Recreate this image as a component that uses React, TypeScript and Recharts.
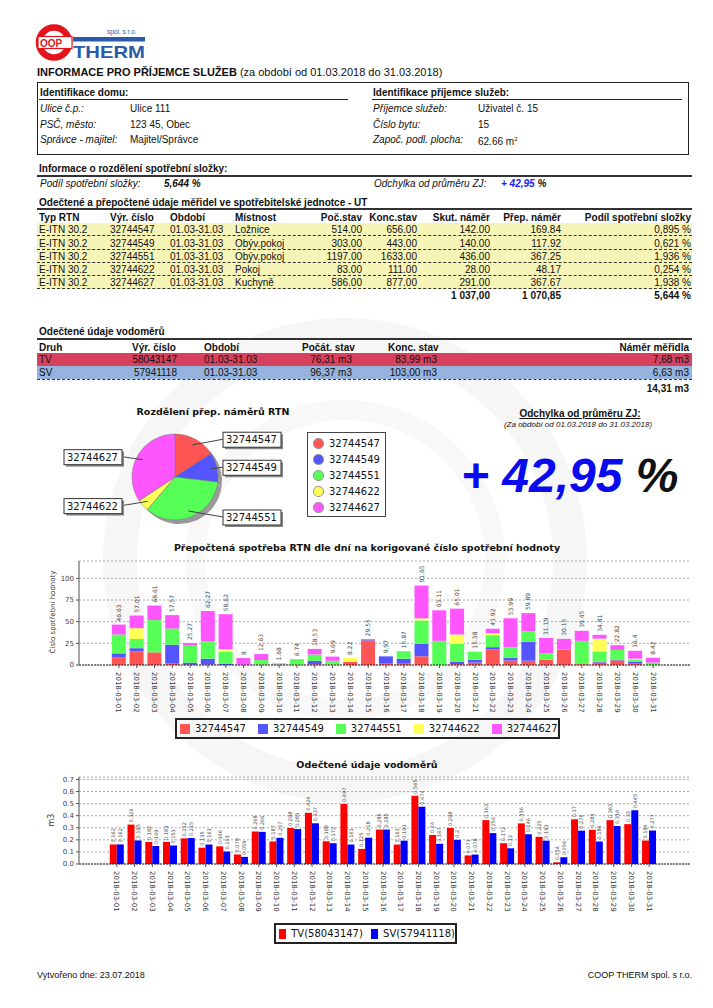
import React from "react";
import {
  ComposedChart,
  BarChart,
  Bar,
  Line,
  XAxis,
  YAxis,
  CartesianGrid,
  ReferenceLine,
  LabelList,
  PieChart,
  Pie,
  Cell,
} from "recharts";

const SANS = "'Liberation Sans', Arial, sans-serif";
const CHART_FONT = "'DejaVu Sans', sans-serif";

// --- RTN meters (table + pie) ---
const RTN_TYPE = "E-ITN 30.2";
const RTN_SERIALS = ["32744547", "32744549", "32744551", "32744622", "32744627"];
const RTN_ROOMS = ["Ložnice", "Obýv.pokoj", "Obýv.pokoj", "Pokoj", "Kuchyně"];
const RTN_START = ["514.00", "303.00", "1197.00", "83.00", "586.00"];
const RTN_END = ["656.00", "443.00", "1633.00", "111.00", "877.00"];
const RTN_ACTUAL = ["142.00", "140.00", "436.00", "28.00", "291.00"];
const RTN_CONVERTED = [169.84, 117.92, 367.25, 48.17, 367.67];
const RTN_SHARE = ["0,895 %", "0,621 %", "1,936 %", "0,254 %", "1,938 %"];
const RTN_COLORS = ["#ff5555", "#5555ff", "#55ff55", "#ffff55", "#ff55ff"];

// --- water meters table ---
const WM_KIND = ["TV", "SV"];
const WM_SERIAL = ["58043147", "57941118"];
const WM_START = ["76,31 m3", "96,37 m3"];
const WM_END = ["83,99 m3", "103,00 m3"];
const WM_USAGE = ["7,68 m3", "6,63 m3"];
const WM_ROW_BG = ["#d8415d", "#96b3dd"];

// --- daily data ---
const DAYS = Array.from({ length: 31 }, (_, i) => `2018-03-${String(i + 1).padStart(2, "0")}`);
const M547 = [8.5, 15.8, 14.6, 1.5, 0.3, 0.5, 0, 0.3, 0.5, 0, 0.3, 0.8, 0.5, 3.6, 28.3, 2.17, 1.5, 10.1, 0, 1.0, 2.8, 18.2, 5.3, 4.9, 6.1, 17.4, 1.0, 2.8, 5.3, 1.5, 0];
const M549 = [4.9, 3.6, 0, 22.0, 2.5, 6.8, 1.2, 0, 0, 0, 0, 4.1, 0, 0, 1.25, 7.8, 5.8, 14.2, 0, 2.6, 3.3, 2.4, 3.2, 21.8, 0, 0, 0, 0.8, 0.8, 2.5, 0];
const M551 = [21.8, 10.6, 37.2, 18.6, 19.5, 19.8, 14.2, 0, 5.2, 0.8, 6.44, 7.2, 4.4, 0, 0, 0, 8.57, 27.1, 27.9, 20.7, 9.28, 13.8, 12.1, 12.2, 7.3, 0.8, 26.9, 12.2, 11.3, 2.5, 2.8];
const M622 = [0, 12.5, 0, 0, 0, 0, 2.8, 0, 0, 0, 0, 0, 0, 4.62, 0, 0, 0, 2.4, 0, 10.9, 0, 2.4, 0, 0, 0, 0, 0, 14.6, 0, 0.8, 0];
const M627 = [11.43, 14.51, 16.81, 15.47, 2.97, 35.17, 40.42, 7.7, 6.93, 0.88, 0, 6.43, 4.79, 0, 0, 0, 0, 37.85, 35.21, 29.81, 0, 5.12, 33.39, 20.99, 17.79, 11.95, 11.55, 4.41, 5.42, 9.1, 5.62];
const TOTALS = [46.63, 57.01, 68.61, 57.57, 25.27, 62.27, 58.62, 8, 12.63, 1.68, 6.74, 18.53, 9.69, 8.22, 29.55, 9.97, 15.87, 91.65, 63.11, 65.01, 15.38, 41.92, 53.99, 59.89, 31.19, 30.15, 39.45, 34.81, 22.82, 16.4, 8.42];
const STACK_TICKS = [0, 25, 50, 75, 100];

const TV = [0.162, 0.326, 0.182, 0.183, 0.212, 0.135, 0.146, 0.079, 0.268, 0.187, 0.298, 0.424, 0.188, 0.497, 0.125, 0.285, 0.161, 0.565, 0.24, 0.298, 0.071, 0.363, 0.172, 0.336, 0.225, 0.014, 0.37, 0.283, 0.363, 0.33, 0.194];
const SV = [0.162, 0.195, 0.149, 0.153, 0.215, 0.161, 0.103, 0.059, 0.266, 0.217, 0.289, 0.337, 0.172, 0.161, 0.218, 0.285, 0.193, 0.474, 0.167, 0.2, 0.078, 0.256, 0.13, 0.246, 0.193, 0.056, 0.276, 0.186, 0.314, 0.445, 0.277];
const WATER_TICKS = [0, 0.1, 0.2, 0.3, 0.4, 0.5, 0.6, 0.7];

const stackKeys = ["m547", "m549", "m551", "m622", "m627"];
const stackData = DAYS.map((day, i) => ({
  day,
  m547: M547[i],
  m549: M549[i],
  m551: M551[i],
  m622: M622[i],
  m627: M627[i],
  total: TOTALS[i],
}));
const waterData = DAYS.map((day, i) => ({ day, tv: TV[i], sv: SV[i] }));
const pieData = RTN_SERIALS.map((name, i) => ({ name, value: RTN_CONVERTED[i] }));

// text placed by its vertical centre
function T({ x, y, right, size = 10, style, children }: any) {
  const lh = Math.round(size * 1.3);
  const s: any = {
    position: "absolute",
    top: y - lh / 2,
    lineHeight: lh + "px",
    fontSize: size,
    whiteSpace: "nowrap",
    ...style,
  };
  if (right) s.right = 713 - x;
  else s.left = x;
  return <div style={s}>{children}</div>;
}

function HLine({ x1, x2, y, w = 1, dashed, color = "#222" }: any) {
  return (
    <div
      style={{
        position: "absolute",
        left: x1,
        top: y,
        width: x2 - x1,
        borderTop: `${w}px ${dashed ? "dashed" : "solid"} ${color}`,
      }}
    />
  );
}

const DayTick = ({ x, y, payload }: any) => (
  <text
    x={x}
    y={y}
    dx={2}
    dy={2.5}
    transform={`rotate(90 ${x} ${y})`}
    fontSize={7}
    fill="#333"
    fontFamily={CHART_FONT}
  >
    {payload.value}
  </text>
);

const TotalLabel = ({ x, y, value }: any) => {
  const ty = y - 3;
  return (
    <text x={x} y={ty} dy={2} transform={`rotate(-90 ${x} ${ty})`} fontSize={6} fill="#444" fontFamily={CHART_FONT}>
      {value}
    </text>
  );
};

const WaterLabel = ({ x, y, width, value }: any) => {
  const cx = x + width / 2;
  const ty = y - 2;
  return (
    <text x={cx} y={ty} dy={1.8} transform={`rotate(-90 ${cx} ${ty})`} fontSize={5} fill="#444" fontFamily={CHART_FONT}>
      {value}
    </text>
  );
};

const RADIAN = Math.PI / 180;
const PieBoxLabel = ({ cx, cy, midAngle, outerRadius, index }: any) => {
  const cos = Math.cos(-midAngle * RADIAN);
  const sin = Math.sin(-midAngle * RADIAN);
  const px = cx + outerRadius * 0.85 * cos;
  const py = cy + outerRadius * 0.85 * sin;
  const by = cy + outerRadius * sin;
  const right = cos >= 0;
  const bw = 58;
  const bx = right ? cx + outerRadius + 5 : cx - outerRadius - 10 - bw;
  const lx = right ? bx : bx + bw;
  return (
    <g>
      <polyline points={`${px},${py} ${lx},${by}`} stroke="#444" fill="none" strokeWidth={1} />
      <rect x={bx + 2} y={by - 7 + 2} width={bw} height={15} fill="#888" />
      <rect x={bx} y={by - 7} width={bw} height={15} fill="#fff" stroke="#333" strokeWidth={1} />
      <text x={bx + 3} y={by + 4} fontSize={10} fill="#111" fontFamily={CHART_FONT}>
        {RTN_SERIALS[index]}
      </text>
    </g>
  );
};

function Logo() {
  return (
    <svg width={114} height={40} style={{ position: "absolute", left: 35, top: 22 }}>
      <circle cx={19} cy={20.5} r={15} fill="#fff" stroke="#e3141b" strokeWidth={6.5} />
      <rect x={3} y={14.5} width={34} height={12} fill="#fff" stroke="#e3141b" strokeWidth={1.2} />
      <text x={5} y={24.5} fontSize={10} fontWeight="bold" fill="#e3141b" fontFamily={SANS}>
        OOP
      </text>
      <text x={72} y={12} fontSize={6.5} fill="#2a5aa8" fontFamily={SANS}>
        spol. s r.o.
      </text>
      <rect x={38} y={15} width={72} height={4.5} fill="#2a5aa8" />
      <text x={38} y={35.5} fontSize={17} fontWeight="bold" fill="#2a5aa8" fontFamily={SANS} textLength={72} lengthAdjust="spacingAndGlyphs">
        THERM
      </text>
    </svg>
  );
}

const italic = { fontStyle: "italic" as const };
const bold = { fontWeight: "bold" as const };

export default function App() {
  const rtnRowY = [229, 243, 256, 269, 282];
  const wmRowY = [359, 372];
  return (
    <div style={{ position: "relative", width: 713, height: 1008, background: "#fff", fontFamily: SANS, color: "#111", overflow: "hidden" }}>
      <style>{"body{margin:0}"}</style>
      {/* faint watermark */}
      <svg width={713} height={1008} style={{ position: "absolute", left: 0, top: 0 }}>
        <circle cx={345} cy={560} r={225} fill="none" stroke="#f6f6f6" strokeWidth={34} />
        <circle cx={345} cy={560} r={150} fill="none" stroke="#f8f8f8" strokeWidth={20} />
      </svg>

      <Logo />
      <T x={37} y={72} size={11}>
        <b>INFORMACE PRO PŘÍJEMCE SLUŽEB</b> (za období od 01.03.2018 do 31.03.2018)
      </T>

      {/* house / recipient box */}
      <div style={{ position: "absolute", left: 37, top: 82, width: 652, height: 73, border: "1px solid #222", boxSizing: "border-box" }} />
      <T x={40} y={92} size={10} style={bold}>Identifikace domu:</T>
      <HLine x1={39} x2={348} y={99} w={1.5} />
      <T x={373} y={92} size={10} style={bold}>Identifikace příjemce služeb:</T>
      <HLine x1={372} x2={682} y={99} w={1.5} />
      <T x={40} y={108} size={10} style={italic}>Ulice č.p.:</T>
      <T x={130} y={108} size={10}>Ulice 111</T>
      <T x={40} y={124} size={10} style={italic}>PSČ, město:</T>
      <T x={130} y={124} size={10}>123 45, Obec</T>
      <T x={40} y={139} size={10} style={italic}>Správce - majitel:</T>
      <T x={130} y={139} size={10}>Majitel/Správce</T>
      <T x={373} y={108} size={10} style={italic}>Příjemce služeb:</T>
      <T x={478} y={108} size={10}>Uživatel č. 15</T>
      <T x={373} y={124} size={10} style={italic}>Číslo bytu:</T>
      <T x={478} y={124} size={10}>15</T>
      <T x={373} y={139} size={10} style={italic}>Započ. podl. plocha:</T>
      <T x={478} y={139} size={10}>
        62.66 m<sup style={{ fontSize: 6 }}>2</sup>
      </T>

      <T x={39} y={168} size={10} style={bold}>Informace o rozdělení spotřební složky:</T>
      <HLine x1={37} x2={692} y={175} w={2} color="#333" />
      <T x={40} y={183} size={10} style={italic}>Podíl spotřební složky:</T>
      <T x={164} y={183} size={10} style={{ ...italic, ...bold }}>5,644 %</T>
      <T x={374} y={183} size={10} style={italic}>Odchylka od průměru ZJ:</T>
      <T x={501} y={183} size={10} style={{ ...italic, ...bold }}>
        <span style={{ color: "#1a1aff" }}>+ 42,95</span> %
      </T>

      <T x={39} y={202} size={10} style={bold}>Odečtené a přepočtené údaje měřidel ve spotřebitelské jednotce - UT</T>
      <HLine x1={37} x2={692} y={208} w={2} color="#333" />
      <T x={39} y={217} size={10} style={bold}>Typ RTN</T>
      <T x={110} y={217} size={10} style={bold}>Výr. číslo</T>
      <T x={170} y={217} size={10} style={bold}>Období</T>
      <T x={235} y={217} size={10} style={bold}>Místnost</T>
      <T x={362} y={217} right size={10} style={bold}>Poč.stav</T>
      <T x={417} y={217} right size={10} style={bold}>Konc.stav</T>
      <T x={490} y={217} right size={10} style={bold}>Skut. náměr</T>
      <T x={561} y={217} right size={10} style={bold}>Přep. náměr</T>
      <T x={691} y={217} right size={10} style={bold}>Podíl spotřební složky</T>
      <div style={{ position: "absolute", left: 37, top: 223, width: 655, height: 66, background: "#f7f4b7" }} />
      {RTN_SERIALS.map((s, i) => (
        <React.Fragment key={s}>
          <T x={39} y={rtnRowY[i]}>{RTN_TYPE}</T>
          <T x={110} y={rtnRowY[i]}>{s}</T>
          <T x={170} y={rtnRowY[i]}>01.03-31.03</T>
          <T x={235} y={rtnRowY[i]}>{RTN_ROOMS[i]}</T>
          <T x={362} y={rtnRowY[i]} right>{RTN_START[i]}</T>
          <T x={417} y={rtnRowY[i]} right>{RTN_END[i]}</T>
          <T x={490} y={rtnRowY[i]} right>{RTN_ACTUAL[i]}</T>
          <T x={561} y={rtnRowY[i]} right>{RTN_CONVERTED[i].toFixed(2)}</T>
          <T x={691} y={rtnRowY[i]} right>{RTN_SHARE[i]}</T>
          <HLine x1={37} x2={692} y={rtnRowY[i] + 6} dashed color="#333" />
        </React.Fragment>
      ))}
      <T x={490} y={295} right style={bold}>1 037,00</T>
      <T x={561} y={295} right style={bold}>1 070,85</T>
      <T x={691} y={295} right style={bold}>5,644 %</T>

      <T x={39} y={331} size={10} style={bold}>Odečtené údaje vodoměrů</T>
      <HLine x1={37} x2={692} y={338} w={2} color="#333" />
      <T x={39} y={347} style={bold}>Druh</T>
      <T x={132} y={347} style={bold}>Výr. číslo</T>
      <T x={204} y={347} style={bold}>Období</T>
      <T x={302} y={347} style={bold}>Počát. stav</T>
      <T x={388} y={347} style={bold}>Konc. stav</T>
      <T x={689} y={347} right style={bold}>Náměr měřidla</T>
      {WM_KIND.map((k, i) => (
        <React.Fragment key={k}>
          <div style={{ position: "absolute", left: 37, top: wmRowY[i] - 6.5, width: 655, height: 13, background: WM_ROW_BG[i] }} />
          <T x={39} y={wmRowY[i]}>{k}</T>
          <T x={177} y={wmRowY[i]} right>{WM_SERIAL[i]}</T>
          <T x={204} y={wmRowY[i]}>01.03-31.03</T>
          <T x={352} y={wmRowY[i]} right>{WM_START[i]}</T>
          <T x={437} y={wmRowY[i]} right>{WM_END[i]}</T>
          <T x={689} y={wmRowY[i]} right>{WM_USAGE[i]}</T>
          <HLine x1={37} x2={692} y={wmRowY[i] + 6.5} dashed color="#333" />
        </React.Fragment>
      ))}
      <T x={689} y={388} right style={bold}>14,31 m3</T>

      {/* pie */}
      <T x={213} y={412} size={9.5} style={{ ...bold, fontFamily: CHART_FONT, transform: "translateX(-50%)" }}>
        Rozdělení přep. náměrů RTN
      </T>
      <PieChart width={260} height={130} style={{ position: "absolute", left: 40, top: 405 }}>
        <Pie
          data={pieData}
          dataKey="value"
          cx={134}
          cy={71}
          outerRadius={43}
          startAngle={90}
          endAngle={-270}
          fill="#999"
          stroke="none"
          isAnimationActive={false}
        />
        <Pie
          data={pieData}
          dataKey="value"
          cx={130}
          cy={67}
          outerRadius={43}
          startAngle={90}
          endAngle={-270}
          stroke="#777"
          strokeWidth={0.5}
          label={PieBoxLabel}
          labelLine={false}
          isAnimationActive={false}
        >
          {pieData.map((d, i) => (
            <Cell key={d.name} fill={RTN_COLORS[i]} />
          ))}
        </Pie>
      </PieChart>
      <div style={{ position: "absolute", left: 307, top: 432, width: 79, height: 85, border: "1px solid #444", boxSizing: "border-box", background: "#fff" }}>
        {RTN_SERIALS.map((s, i) => (
          <div key={s} style={{ position: "absolute", left: 5, top: 3 + i * 16, height: 14, display: "flex", alignItems: "center", fontFamily: CHART_FONT, fontSize: 10 }}>
            <span style={{ width: 9, height: 9, borderRadius: 5, background: RTN_COLORS[i], border: "0.5px solid #999", marginRight: 5 }} />
            {s}
          </div>
        ))}
      </div>

      <T x={580} y={413} size={10} style={{ ...bold, textDecoration: "underline", transform: "translateX(-50%)" }}>
        Odchylka od průměru ZJ:
      </T>
      <T x={578} y={425} size={8} style={{ ...italic, transform: "translateX(-50%)" }}>
        (Za období od 01.03.2018 do 31.03.2018)
      </T>
      <div style={{ position: "absolute", left: 461, top: 452, fontSize: 48, lineHeight: "47px", fontWeight: "bold", fontStyle: "italic", whiteSpace: "nowrap" }}>
        <span style={{ color: "#0a0aee" }}>+ 42,95</span> %
      </div>

      {/* stacked daily chart */}
      <T x={367} y={548} size={9.5} style={{ ...bold, fontFamily: CHART_FONT, transform: "translateX(-50%)" }}>
        Přepočtená spotřeba RTN dle dní na korigované číslo spotřební hodnoty
      </T>
      <div style={{ position: "absolute", left: 53, top: 612, transform: "translate(-50%,-50%) rotate(-90deg)", fontFamily: CHART_FONT, fontSize: 7, color: "#333", whiteSpace: "nowrap" }}>
        Číslo spotřební hodnoty
      </div>
      <ComposedChart
        width={700}
        height={169}
        data={stackData}
        margin={{ top: 10, right: 10, bottom: 0, left: 49 }}
        barCategoryGap="10%"
        style={{ position: "absolute", left: 0, top: 551 }}
      >
        <CartesianGrid vertical={false} stroke="#aaa" strokeDasharray="2 2" />
        <XAxis dataKey="day" interval={0} height={55} padding={{ left: 31, right: 28 }} axisLine={false} tickSize={3} tickLine={{ stroke: "#555" }} tick={<DayTick />} />
        <YAxis domain={[0, 120]} ticks={STACK_TICKS} interval={0} width={30} axisLine={{ stroke: "#888", strokeWidth: 1.5 }} tickSize={3} tickLine={{ stroke: "#555" }} tick={{ fontSize: 7, fill: "#444", fontFamily: CHART_FONT }} />
        {stackKeys.map((k, i) => (
          <Bar key={k} dataKey={k} stackId="a" fill={RTN_COLORS[i]} isAnimationActive={false} />
        ))}
        <Line dataKey="total" stroke="none" dot={false} activeDot={false} isAnimationActive={false} legendType="none">
          <LabelList dataKey="total" content={<TotalLabel />} />
        </Line>
        <ReferenceLine y={0} stroke="#222" strokeDasharray="2 1" strokeWidth={1.2} />
      </ComposedChart>
      <div style={{ position: "absolute", left: 175, top: 718, width: 385, height: 21, border: "2px solid #222", boxSizing: "border-box", display: "flex", alignItems: "center", paddingLeft: 3, fontFamily: CHART_FONT, fontSize: 10 }}>
        {RTN_SERIALS.map((s, i) => (
          <div key={s} style={{ display: "flex", alignItems: "center", marginRight: 12 }}>
            <span style={{ width: 10, height: 10, background: RTN_COLORS[i], marginRight: 5 }} />
            {s}
          </div>
        ))}
      </div>

      {/* water chart */}
      <T x={367} y={765} size={9.5} style={{ ...bold, fontFamily: CHART_FONT, transform: "translateX(-50%)" }}>
        Odečtené údaje vodoměrů
      </T>
      <div style={{ position: "absolute", left: 51, top: 820, transform: "translate(-50%,-50%) rotate(-90deg)", fontFamily: CHART_FONT, fontSize: 8, color: "#333" }}>
        m3
      </div>
      <BarChart
        width={700}
        height={148}
        data={waterData}
        margin={{ top: 11, right: 10, bottom: 0, left: 49 }}
        barCategoryGap="10%"
        barGap={0}
        style={{ position: "absolute", left: 0, top: 766 }}
      >
        <CartesianGrid vertical={false} stroke="#aaa" strokeDasharray="2 2" />
        <XAxis dataKey="day" interval={0} height={50} padding={{ left: 29, right: 32 }} axisLine={false} tickSize={3} tickLine={{ stroke: "#555" }} tick={<DayTick />} />
        <YAxis domain={[0, 0.72]} ticks={WATER_TICKS} interval={0} tickFormatter={(v: number) => v.toFixed(1)} width={30} axisLine={{ stroke: "#888", strokeWidth: 1.5 }} tickSize={3} tickLine={{ stroke: "#555" }} tick={{ fontSize: 7, fill: "#444", fontFamily: CHART_FONT }} />
        <Bar dataKey="tv" fill="#ff0000" isAnimationActive={false}>
          <LabelList dataKey="tv" content={<WaterLabel />} />
        </Bar>
        <Bar dataKey="sv" fill="#0000ff" isAnimationActive={false}>
          <LabelList dataKey="sv" content={<WaterLabel />} />
        </Bar>
        <ReferenceLine y={0} stroke="#222" strokeDasharray="2 1" strokeWidth={1.2} />
      </BarChart>
      <div style={{ position: "absolute", left: 274, top: 923, width: 183, height: 21, border: "2px solid #222", boxSizing: "border-box", display: "flex", alignItems: "center", paddingLeft: 3, fontFamily: CHART_FONT, fontSize: 10 }}>
        <span style={{ width: 10, height: 10, background: "#ff0000", marginRight: 5 }} />
        <span style={{ marginRight: 8 }}>TV(58043147)</span>
        <span style={{ width: 10, height: 10, background: "#0000ff", marginRight: 5 }} />
        <span>SV(57941118)</span>
      </div>

      <T x={37} y={975} size={9}>Vytvořeno dne: 23.07.2018</T>
      <T x={692} y={975} right size={9}>COOP THERM spol. s r.o.</T>
    </div>
  );
}
